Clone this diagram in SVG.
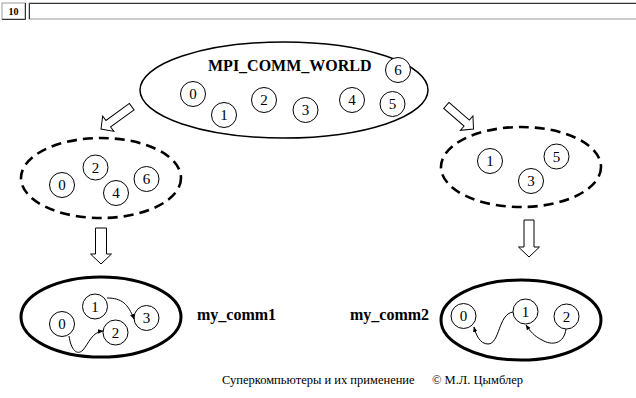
<svg xmlns="http://www.w3.org/2000/svg" width="636" height="398" viewBox="0 0 636 398">
<defs>
<style>
.t{font-family:"Liberation Serif","Times New Roman",serif;fill:#000}
.d{font-size:15px;text-anchor:middle}
.b{font-size:16px;font-weight:bold}
.c{fill:#fff;stroke:#000;stroke-width:1}
.ba{fill:#fff;stroke:#000;stroke-width:1;stroke-linejoin:miter}
.dash{fill:none;stroke:#000;stroke-width:2.6;stroke-dasharray:10 6}
.solid{fill:none;stroke:#000;stroke-width:3}
.con{fill:none;stroke:#000;stroke-width:1}
.f{font-size:12.5px}
</style>
<marker id="ah" viewBox="0 0 10 10" refX="9" refY="5" markerWidth="5.5" markerHeight="5.5" markerUnits="userSpaceOnUse" orient="auto">
<path d="M0,1 L10,5 L0,9 Z" fill="#000"/>
</marker>
</defs>
<rect width="636" height="398" fill="#fff"/>

<g id="header">
<rect x="2" y="3" width="23" height="16" fill="#fff" stroke="#999" stroke-width="1"/>
<polyline points="25.5,3 25.5,19.5 2,19.5" fill="none" stroke="#333" stroke-width="1"/>
<text x="13.5" y="15" class="t" style="font-size:10px;font-weight:bold;text-anchor:middle">10</text>
<rect x="29" y="3" width="612" height="16" fill="#fff" stroke="#999" stroke-width="1"/>
<polyline points="29.5,19 29.5,3.5 636,3.5" fill="none" stroke="#333" stroke-width="1"/>
</g>

<g id="world">
<ellipse cx="284" cy="90" rx="144" ry="48" fill="none" stroke="#000" stroke-width="1.5"/>
<text x="208" y="71" class="t b">MPI_COMM_WORLD</text>
<g id="w0"><circle cx="193" cy="94" r="12.5" class="c"/><text x="193" y="99" class="t d">0</text></g>
<g id="w1"><circle cx="224" cy="115" r="12.5" class="c"/><text x="224" y="120" class="t d">1</text></g>
<g id="w2"><circle cx="264" cy="100" r="12.5" class="c"/><text x="264" y="105" class="t d">2</text></g>
<g id="w3"><circle cx="305.5" cy="110" r="12.5" class="c"/><text x="305.5" y="115" class="t d">3</text></g>
<g id="w4"><circle cx="352" cy="100" r="12.5" class="c"/><text x="352" y="105" class="t d">4</text></g>
<g id="w5"><circle cx="392.5" cy="104" r="12.5" class="c"/><text x="392.5" y="109" class="t d">5</text></g>
<g id="w6"><circle cx="398" cy="70" r="12.5" class="c"/><text x="398" y="75" class="t d">6</text></g>
</g>

<g id="group-even">
<ellipse cx="101" cy="178" rx="80" ry="40" class="dash"/>
<g id="e0"><circle cx="62" cy="185" r="12.5" class="c"/><text x="62" y="190" class="t d">0</text></g>
<g id="e2"><circle cx="95.5" cy="167.5" r="12.5" class="c"/><text x="95.5" y="172.5" class="t d">2</text></g>
<g id="e4"><circle cx="116" cy="193" r="12.5" class="c"/><text x="116" y="198" class="t d">4</text></g>
<g id="e6"><circle cx="146.5" cy="179" r="12.5" class="c"/><text x="146.5" y="184" class="t d">6</text></g>
</g>

<g id="group-odd">
<ellipse cx="521" cy="167" rx="80" ry="40" class="dash"/>
<g id="o1"><circle cx="490" cy="161" r="12.5" class="c"/><text x="490" y="166" class="t d">1</text></g>
<g id="o3"><circle cx="531" cy="181" r="12.5" class="c"/><text x="531" y="186" class="t d">3</text></g>
<g id="o5"><circle cx="556.5" cy="156.5" r="12.5" class="c"/><text x="556.5" y="161.5" class="t d">5</text></g>
</g>

<g id="comm1">
<ellipse cx="101" cy="317" rx="80" ry="40" class="solid"/>
<g id="c1-0"><circle cx="62" cy="324" r="12.5" class="c"/><text x="62" y="329" class="t d">0</text></g>
<g id="c1-1"><circle cx="95" cy="306.5" r="12.5" class="c"/><text x="95" y="311.5" class="t d">1</text></g>
<g id="c1-2"><circle cx="115.5" cy="332.5" r="12.5" class="c"/><text x="115.5" y="337.5" class="t d">2</text></g>
<g id="c1-3"><circle cx="146.5" cy="318" r="12.5" class="c"/><text x="146.5" y="323" class="t d">3</text></g>
</g>
<text x="197" y="320" class="t b">my_comm1</text>

<g id="comm2">
<ellipse cx="521" cy="320" rx="80" ry="40" class="solid"/>
<g id="c2-0"><circle cx="463.5" cy="316" r="12.5" class="c"/><text x="463.5" y="321" class="t d">0</text></g>
<g id="c2-1"><circle cx="525.5" cy="311.5" r="12.5" class="c"/><text x="525.5" y="316.5" class="t d">1</text></g>
<g id="c2-2"><circle cx="566.5" cy="316.5" r="12.5" class="c"/><text x="566.5" y="321.5" class="t d">2</text></g>
</g>
<text x="350" y="320" class="t b">my_comm2</text>

<g id="connectors">
<polygon class="ba" transform="translate(101,129) rotate(144)" points="-38,-4 -9,-4 -9,-9.5 0,0 -9,9.5 -9,4 -38,4"/>
<polygon class="ba" transform="translate(473.5,129) rotate(41)" points="-36,-4 -9,-4 -9,-9.5 0,0 -9,9.5 -9,4 -36,4"/>
<polygon class="ba" points="95.5,228 106.5,228 106.5,254 111.5,254 101,264 90.5,254 95.5,254"/>
<polygon class="ba" points="524,220 534,220 534,247 539.5,247 529,257 518.5,247 524,247"/>
<path class="con" d="M107,298 C122,298 128,304 134,319" marker-end="url(#ah)"/>
<path class="con" d="M69,336 C71,350 77,356 83,350 C89,343 92,332 103,331" marker-end="url(#ah)"/>
<path class="con" d="M513,312 C498,314 500,344 488,344 C480,344 476,335 474,327" marker-end="url(#ah)"/>
<path class="con" d="M566,329 C564,344 552,346 542,340 C534,336 530,331 526,325" marker-end="url(#ah)"/>
</g>

<g id="footer">
<text x="222" y="384" class="t f">Суперкомпьютеры и их применение</text>
<text x="432" y="384" class="t f">© М.Л. Цымблер</text>
</g>
</svg>
